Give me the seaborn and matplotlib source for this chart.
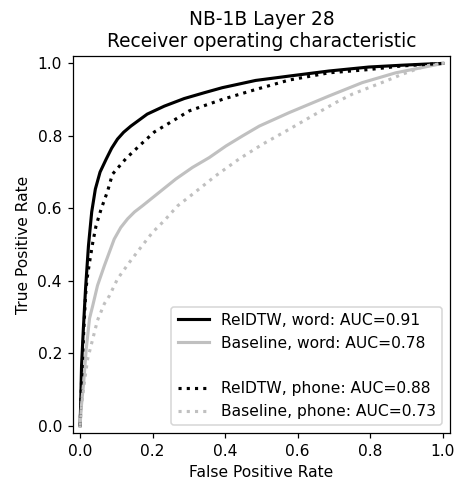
import pandas as pd
import matplotlib
matplotlib.use("Agg")
import matplotlib.pyplot as plt
import seaborn as sns
from matplotlib.lines import Line2D

# ROC points
reldtw_word_fpr = [0, 0.002, 0.004, 0.009, 0.015, 0.023, 0.032, 0.042, 0.055, 0.072, 0.087, 0.103, 0.120,
                   0.140, 0.185, 0.232, 0.287, 0.342, 0.392, 0.484, 0.576, 0.686, 0.796, 0.887, 0.95, 1.0]
reldtw_word_tpr = [0, 0.075, 0.166, 0.268, 0.378, 0.496, 0.590, 0.653, 0.700, 0.736, 0.766, 0.791, 0.810,
                   0.827, 0.860, 0.882, 0.903, 0.919, 0.933, 0.953, 0.965, 0.979, 0.990, 0.995, 0.998, 1.0]

base_word_fpr = [0, 0.003, 0.010, 0.017, 0.026, 0.035, 0.048, 0.067, 0.094, 0.112, 0.131, 0.150, 0.172,
                 0.218, 0.264, 0.310, 0.356, 0.402, 0.448, 0.494, 0.576, 0.686, 0.778, 0.870, 1.0]
base_word_tpr = [0, 0.048, 0.122, 0.213, 0.296, 0.332, 0.387, 0.442, 0.515, 0.547, 0.571, 0.590, 0.607,
                 0.644, 0.681, 0.713, 0.740, 0.772, 0.800, 0.827, 0.864, 0.910, 0.947, 0.974, 1.0]

reldtw_phone_fpr = [0, 0.004, 0.010, 0.015, 0.019, 0.026, 0.035, 0.044, 0.058, 0.076, 0.089, 0.127,
                    0.168, 0.205, 0.250, 0.301, 0.393, 0.484, 0.576, 0.686, 0.796, 0.887, 1.0]
reldtw_phone_tpr = [0, 0.122, 0.260, 0.359, 0.405, 0.451, 0.506, 0.552, 0.598, 0.648, 0.694, 0.738,
                    0.777, 0.811, 0.838, 0.869, 0.901, 0.928, 0.954, 0.974, 0.983, 0.993, 1.0]

base_phone_fpr = [0, 0.004, 0.012, 0.021, 0.035, 0.048, 0.067, 0.081, 0.103, 0.136, 0.168, 0.200,
                  0.232, 0.269, 0.310, 0.374, 0.438, 0.503, 0.576, 0.640, 0.705, 0.750, 0.796,
                  0.842, 0.888, 0.952, 1.0]
base_phone_tpr = [0, 0.057, 0.122, 0.185, 0.240, 0.291, 0.337, 0.359, 0.405, 0.451, 0.493, 0.534,
                  0.566, 0.607, 0.639, 0.690, 0.736, 0.777, 0.818, 0.855, 0.892, 0.915, 0.933,
                  0.951, 0.970, 0.993, 1.0]

labels = ['RelDTW, word: AUC=0.91', 'Baseline, word: AUC=0.78',
          'RelDTW, phone: AUC=0.88', 'Baseline, phone: AUC=0.73']

fig, ax = plt.subplots(figsize=(464 / 112, 480 / 112), dpi=112)
fig.subplots_adjust(left=0.157, right=0.970, bottom=0.098, top=0.883)

curves = [
    (reldtw_word_fpr, reldtw_word_tpr, 'black', '-'),
    (base_word_fpr, base_word_tpr, 'silver', '-'),
    (reldtw_phone_fpr, reldtw_phone_tpr, 'black', ':'),
    (base_phone_fpr, base_phone_tpr, 'silver', ':'),
]
for (fpr, tpr, col, ls), lab in zip(curves, labels):
    d = pd.DataFrame({'fpr': fpr, 'tpr': tpr})
    sns.lineplot(data=d, x='fpr', y='tpr', color=col, linestyle=ls, linewidth=2, ax=ax)

lines = ax.get_lines()
blank = Line2D([], [], color='none')
ax.legend([lines[0], lines[1], blank, lines[2], lines[3]],
          [labels[0], labels[1], ' ', labels[2], labels[3]], loc='lower right')

ax.set_xlim(-0.02, 1.02)
ax.set_ylim(-0.02, 1.02)
ax.set_xlabel('False Positive Rate')
ax.set_ylabel('True Positive Rate')
ax.set_title('NB-1B Layer 28\nReceiver operating characteristic')

plt.savefig('out.png', dpi=112)
